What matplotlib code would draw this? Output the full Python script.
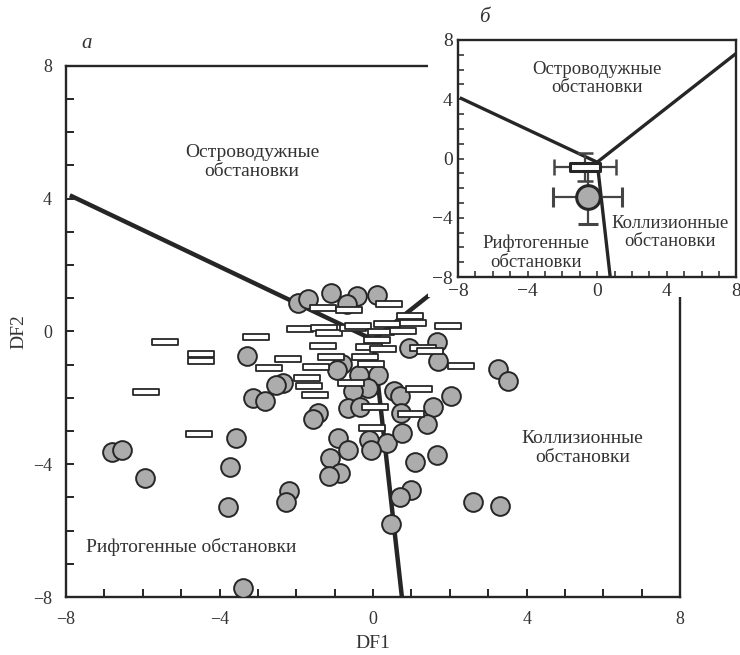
import numpy as np
import matplotlib
matplotlib.use('Agg')
import matplotlib.pyplot as plt
from matplotlib.patches import Rectangle
from matplotlib.path import Path

plt.rcParams['font.family'] = ['Liberation Serif', 'DejaVu Serif']
plt.rcParams['axes.unicode_minus'] = True

# круги (точки пород, тип 1)
circ_x = [-1.95, -1.69, -1.09, -0.42, -0.68, 0.10, -3.28, 0.94, 1.67, 1.69,
          3.26, 3.52, -0.81, -0.94, -0.36, 0.13, -2.34, -2.53, -0.13, -0.52,
          0.55, 0.70, 2.03, -3.13, -2.81, 1.56, -0.65, -0.34, -1.43, -1.56,
          0.73, 1.41, -3.57, -0.91, -0.65, -0.10, 0.36, 0.76, -0.05, -1.12,
          -0.86, -1.15, 1.09, 1.67, -3.72, 0.99, 0.70, 0.47, 2.60, 3.31,
          -6.80, -6.54, -5.94, -3.78, -2.19, -2.27, -3.39]
circ_y = [0.87, 0.99, 1.17, 1.08, 0.84, 1.11, -0.75, -0.51, -0.33, -0.90,
          -1.14, -1.48, -0.99, -1.17, -1.30, -1.30, -1.54, -1.60, -1.69, -1.78,
          -1.78, -1.93, -1.93, -2.02, -2.11, -2.29, -2.32, -2.29, -2.47, -2.65,
          -2.47, -2.80, -3.22, -3.22, -3.58, -3.28, -3.37, -3.07, -3.58, -3.80,
          -4.25, -4.34, -3.92, -3.73, -4.07, -4.79, -5.00, -5.81, -5.15, -5.27,
          -3.64, -3.58, -4.40, -5.30, -4.82, -5.15, -7.74]

# прямоугольники (тип 2)
rect_x = [-1.30, -0.63, 0.42, 0.96, 0.36, 1.04, 1.95, -3.05, -1.90, -1.28,
          -1.15, -0.52, -0.39, 0.21, 0.78, 0.10, -1.30, -0.10, 0.26, 1.30,
          1.48, -2.21, -1.09, -0.21, -2.71, -1.48, -0.05, 2.29, -1.72, -1.67,
          -0.57, -1.51, 1.20, 0.05, 0.99, -0.03, -5.42, -4.48, -4.48, -5.92,
          -4.53]
rect_y = [0.72, 0.66, 0.84, 0.45, 0.21, 0.24, 0.15, -0.18, 0.06, 0.09,
          -0.06, 0.09, 0.15, -0.03, 0.00, -0.27, -0.45, -0.48, -0.54, -0.51,
          -0.60, -0.84, -0.78, -0.78, -1.11, -1.08, -0.99, -1.05, -1.39, -1.63,
          -1.54, -1.90, -1.72, -2.29, -2.50, -2.92, -0.33, -0.69, -0.90, -1.81,
          -3.10]

# границы полей
bound_left_x = [-7.9, 0.0]
bound_left_y = [4.1, -0.25]
bound_right_x = [0.0, 8.0]
bound_right_y = [-0.25, 7.1]
bound_down_x = [0.0, 0.75]
bound_down_y = [-0.25, -8.0]

# средние (врезка б)
mean_circ = (-0.55, -2.6, 2.0, 1.8)   # x, y, xerr, yerr
mean_rect = (-0.7, -0.6, 1.8, 0.95)

ticks = list(range(-8, 9))
tick_labels = ['\u22128', '', '', '', '\u22124', '', '', '', '0', '', '', '', '4', '', '', '', '8']

rect_marker = Path([(-1, -0.26), (1, -0.26), (1, 0.26), (-1, 0.26), (-1, -0.26)],
                   [Path.MOVETO, Path.LINETO, Path.LINETO, Path.LINETO, Path.CLOSEPOLY])

dark = '#262626'
grey = '#acacac'
txt = '#333333'

fig = plt.figure(figsize=(7.4, 6.55), dpi=100)
ax = fig.add_axes([0.0892, 0.0885, 0.830, 0.811], zorder=0)
ax.set_xlim(-8, 8)
ax.set_ylim(-8, 8)
for s in ax.spines.values():
    s.set_linewidth(1.7)
    s.set_color(dark)
ax.set_xticks(ticks)
ax.set_xticklabels(tick_labels)
ax.set_yticks(ticks)
ax.set_yticklabels(tick_labels)
ax.tick_params(direction='in', length=6, width=1.4, colors=dark, labelsize=13,
               labelcolor=txt, top=False, right=False)
ax.tick_params(axis='x', pad=10)
ax.tick_params(axis='y', pad=10)

for bx, by in [(bound_left_x, bound_left_y), (bound_right_x, bound_right_y), (bound_down_x, bound_down_y)]:
    ax.plot(bx, by, color=dark, lw=3.2, solid_capstyle='butt', zorder=2)

ax.plot(circ_x, circ_y, 'o', ms=13.5, mfc=grey, mec=dark, mew=1.4, zorder=3)
ax.plot(rect_x, rect_y, ls='none', marker=rect_marker, ms=19, mfc='white', mec=dark, mew=1.3, zorder=4)

ax.text(-3.15, 5.1, 'Островодужные\nобстановки', ha='center', va='center', fontsize=14,
        color=txt, linespacing=1.15)
ax.text(5.45, -3.5, 'Коллизионные\nобстановки', ha='center', va='center', fontsize=14,
        color=txt, linespacing=1.15)
ax.text(-4.74, -6.5, 'Рифтогенные обстановки', ha='center', va='center', fontsize=14,
        color=txt)
ax.set_xlabel('DF1', fontsize=14, color=txt, labelpad=5)
ax.set_ylabel('DF2', fontsize=14, color=txt, labelpad=4)

# белая подложка под врезку
fig.add_artist(Rectangle((0.578, 0.5466), 0.422, 0.4534, transform=fig.transFigure,
                         facecolor='white', edgecolor='none', zorder=1))

# врезка
axi = fig.add_axes([0.619, 0.577, 0.376, 0.362], zorder=2)
axi.set_xlim(-8, 8)
axi.set_ylim(-8, 8)
for s in axi.spines.values():
    s.set_linewidth(1.7)
    s.set_color(dark)
axi.set_xticks(ticks)
axi.set_xticklabels(tick_labels)
axi.set_yticks(ticks)
axi.set_yticklabels(tick_labels)
axi.tick_params(direction='in', length=4, width=1.1, colors=dark, labelsize=14,
                labelcolor=txt, top=False, right=False, pad=4)

for bx, by in [(bound_left_x, bound_left_y), (bound_right_x, bound_right_y), (bound_down_x, bound_down_y)]:
    axi.plot(bx, by, color=dark, lw=2.4, solid_capstyle='butt', zorder=2)

axi.errorbar(mean_circ[0], mean_circ[1], xerr=mean_circ[2], yerr=mean_circ[3], fmt='o', ms=17,
             mfc=grey, mec=dark, mew=2.2, ecolor='#444444', elinewidth=1.6, capsize=7,
             capthick=1.8, zorder=3)
axi.errorbar(mean_rect[0], mean_rect[1], xerr=mean_rect[2], yerr=mean_rect[3], fmt='none',
             ecolor='#444444', elinewidth=1.6, capsize=5.5, capthick=1.8, zorder=4)
axi.plot([mean_rect[0]], [mean_rect[1]], ls='none', marker=rect_marker, ms=22, mfc='white',
         mec=dark, mew=2.2, zorder=5)

axi.text(0.0, 5.4, 'Островодужные\nобстановки', ha='center', va='center', fontsize=13.5,
         color=txt, linespacing=1.1)
axi.text(4.2, -5.0, 'Коллизионные\nобстановки', ha='center', va='center', fontsize=13.5,
         color=txt, linespacing=1.1)
axi.text(-3.5, -6.35, 'Рифтогенные\nобстановки', ha='center', va='center', fontsize=13.5,
         color=txt, linespacing=1.1)

fig.text(87 / 740, 1 - 43 / 655, 'а', fontsize=15, style='italic', ha='center', va='center', color=txt)
fig.text(484 / 740, 1 - 17 / 655, 'б', fontsize=15, style='italic', ha='center', va='center', color=txt)

fig.savefig('out.png', dpi=100, facecolor='white')
